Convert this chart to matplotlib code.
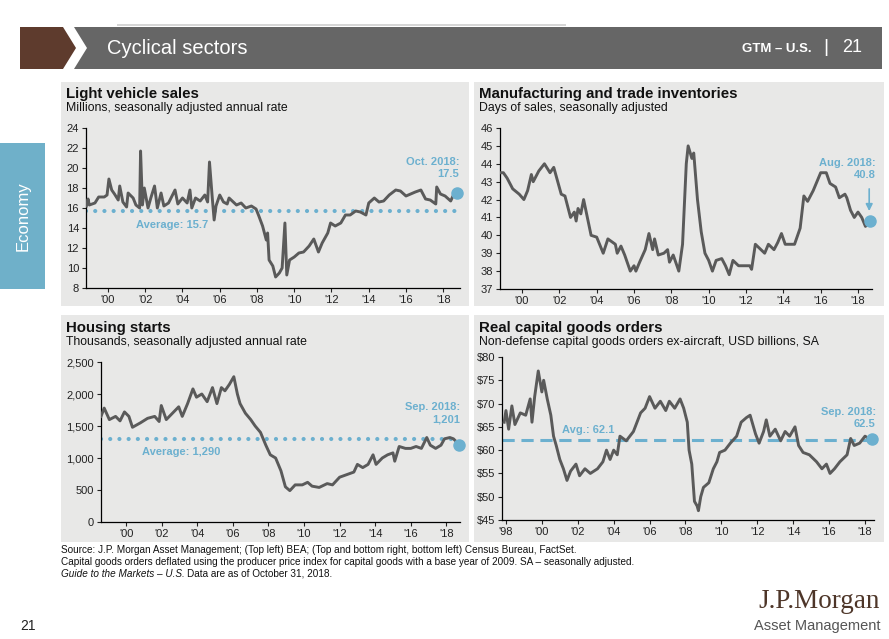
import matplotlib
matplotlib.use('Agg')
import matplotlib.pyplot as plt
from matplotlib.patches import Rectangle, Polygon

plt.rcParams['font.family'] = ['Liberation Sans', 'DejaVu Sans']

W, H = 889, 639
GREY_LINE = '#5a5a5a'
BLUE = '#6cb0cf'
PANEL = '#e8e8e7'

# ---- data (decimal years) ----
cars_t = [1998.84, 1998.93, 1999.0, 1999.3, 1999.5, 1999.8, 1999.95, 2000.05, 2000.2, 2000.35,
          2000.55, 2000.63, 2000.8, 2001.0, 2001.08, 2001.35, 2001.5, 2001.7, 2001.75, 2001.85,
          2001.95, 2002.15, 2002.3, 2002.5, 2002.65, 2002.85, 2003.0, 2003.25, 2003.6, 2003.75,
          2004.0, 2004.25, 2004.4, 2004.5, 2004.7, 2004.95, 2005.2, 2005.35, 2005.45, 2005.6,
          2005.7, 2005.8, 2006.0, 2006.2, 2006.4, 2006.5, 2006.9, 2007.15, 2007.4, 2007.7,
          2007.95, 2008.1, 2008.3, 2008.5, 2008.57, 2008.65, 2008.85, 2009.0, 2009.2, 2009.35,
          2009.5, 2009.6, 2009.75, 2010.0, 2010.25, 2010.5, 2010.8, 2011.05, 2011.3, 2011.5,
          2011.8, 2011.95, 2012.2, 2012.5, 2012.75, 2013.0, 2013.3, 2013.55, 2013.85, 2014.0,
          2014.3, 2014.55, 2014.8, 2015.1, 2015.45, 2015.7, 2016.0, 2016.25, 2016.5, 2016.8,
          2017.05, 2017.3, 2017.6, 2017.65, 2017.85, 2018.1, 2018.4, 2018.55, 2018.72]
cars_v = [16.2, 16.9, 16.3, 16.5, 17.1, 17.1, 17.3, 18.9, 17.8, 17.4,
          16.8, 18.2, 16.6, 16.1, 17.5, 17.0, 16.3, 16.0, 21.7, 16.3,
          18.0, 16.0, 17.0, 18.2, 16.0, 17.5, 16.2, 16.5, 17.8, 16.4,
          17.0, 16.5, 17.8, 16.0, 17.0, 16.7, 17.3, 16.6, 20.6, 17.0,
          14.8, 16.2, 17.3, 16.6, 16.4, 17.0, 16.3, 16.5, 16.0, 16.2,
          15.9, 15.2, 14.2, 12.8, 13.5, 10.8, 10.2, 9.1, 9.5, 10.0,
          14.5, 9.3, 10.8, 11.1, 11.5, 11.6, 12.2, 12.9, 11.6, 12.5,
          13.5, 14.5, 14.2, 14.5, 15.3, 15.3, 15.7, 15.6, 15.3, 16.5,
          17.0, 16.6, 16.7, 17.3, 17.8, 17.7, 17.2, 17.4, 17.6, 17.8,
          16.9, 16.8, 16.4, 18.1, 17.4, 17.2, 16.7, 17.3, 17.5]
cars_avg = 15.7

inv_t = [1998.82, 1999.0, 1999.2, 1999.35, 1999.5, 1999.85, 2000.1, 2000.3, 2000.5, 2000.6,
         2000.9, 2001.2, 2001.5, 2001.7, 2002.1, 2002.3, 2002.6, 2002.8, 2002.9, 2003.0,
         2003.15, 2003.3, 2003.7, 2004.0, 2004.35, 2004.6, 2005.0, 2005.1, 2005.3, 2005.5,
         2005.8, 2006.0, 2006.1, 2006.3, 2006.6, 2006.8, 2007.0, 2007.1, 2007.3, 2007.6,
         2007.8, 2007.9, 2008.1, 2008.4, 2008.6, 2008.8, 2008.9, 2009.1, 2009.2, 2009.4,
         2009.6, 2009.8, 2010.0, 2010.2, 2010.4, 2010.7, 2010.9, 2011.1, 2011.3, 2011.6,
         2012.2, 2012.3, 2012.5, 2012.8, 2013.0, 2013.2, 2013.5, 2013.7, 2013.9, 2014.1,
         2014.6, 2014.9, 2015.1, 2015.3, 2015.6, 2015.8, 2016.0, 2016.3, 2016.5, 2016.8,
         2017.0, 2017.3, 2017.4, 2017.6, 2017.8, 2018.0, 2018.2, 2018.4, 2018.64]
inv_v = [43.5, 43.5, 43.2, 42.9, 42.6, 42.3, 42.0, 42.5, 43.4, 43.0,
         43.6, 44.0, 43.5, 43.8, 42.3, 42.2, 41.0, 41.3, 40.8, 41.5,
         41.2, 42.0, 40.0, 39.9, 39.0, 39.8, 39.5, 39.0, 39.4, 38.9,
         38.0, 38.3, 38.0, 38.5, 39.2, 40.1, 39.2, 39.8, 38.9, 39.0,
         39.2, 38.5, 38.9, 38.0, 39.5, 44.0, 45.0, 44.3, 44.6, 42.0,
         40.2, 39.0, 38.6, 38.0, 38.6, 38.7, 38.3, 37.8, 38.6, 38.3,
         38.3, 38.1, 39.5, 39.2, 39.0, 39.5, 39.2, 39.6, 40.1, 39.5,
         39.5, 40.4, 42.2, 41.9, 42.5, 43.0, 43.5, 43.5, 42.9, 42.7,
         42.1, 42.3, 42.1, 41.4, 41.0, 41.3, 41.0, 40.5, 40.8]

house_t = [1998.58, 1998.76, 1999.05, 1999.4, 1999.65, 1999.9, 2000.15, 2000.35, 2000.8, 2001.2,
           2001.6, 2001.85, 2001.97, 2002.25, 2002.6, 2002.95, 2003.15, 2003.45, 2003.75, 2003.95,
           2004.25, 2004.55, 2004.85, 2005.1, 2005.35, 2005.55, 2005.8, 2006.05, 2006.25, 2006.4,
           2006.7, 2007.0, 2007.25, 2007.55, 2007.85, 2008.1, 2008.4, 2008.7, 2008.95, 2009.2,
           2009.5, 2009.9, 2010.2, 2010.45, 2010.85, 2011.3, 2011.6, 2012.0, 2012.4, 2012.8,
           2013.0, 2013.3, 2013.6, 2013.88, 2014.05, 2014.4, 2014.7, 2015.0, 2015.1, 2015.35,
           2015.7, 2016.0, 2016.3, 2016.6, 2016.9, 2017.1, 2017.4, 2017.7, 2017.9, 2018.2,
           2018.4, 2018.58, 2018.7]
house_v = [1650, 1780, 1600, 1650, 1580, 1720, 1650, 1480, 1550, 1620,
           1650, 1570, 1820, 1600, 1700, 1800, 1650, 1850, 2080, 1950,
           2000, 1880, 2100, 1850, 2100, 2050, 2150, 2270, 2000, 1850,
           1700, 1600, 1500, 1400, 1200, 1050, 1000, 800, 550, 490,
           580, 580, 620, 560, 540, 600, 580, 700, 740, 780,
           900, 850, 900, 1050, 900, 1000, 1050, 1080, 950, 1180,
           1150, 1150, 1180, 1150, 1320, 1200, 1150, 1200, 1300, 1320,
           1300, 1250, 1201]
house_avg = 1290

cap_t = [1997.9, 1998.0, 1998.15, 1998.33, 1998.5, 1998.8, 1999.1, 1999.35, 1999.45, 1999.6,
         1999.8, 2000.0, 2000.1, 2000.3, 2000.5, 2000.65, 2000.8, 2001.0, 2001.2, 2001.4,
         2001.6, 2001.9, 2002.1, 2002.4, 2002.7, 2003.1, 2003.4, 2003.6, 2003.8, 2004.0,
         2004.2, 2004.35, 2004.7, 2005.1, 2005.3, 2005.5, 2005.75, 2006.0, 2006.3, 2006.6,
         2006.9, 2007.1, 2007.4, 2007.7, 2007.9, 2008.1, 2008.2, 2008.35, 2008.5, 2008.65,
         2008.72, 2008.85, 2009.0, 2009.3, 2009.55, 2009.75, 2009.9, 2010.2, 2010.5, 2010.85,
         2011.1, 2011.4, 2011.6, 2011.9, 2012.1, 2012.35, 2012.5, 2012.7, 2013.0, 2013.3,
         2013.55, 2013.8, 2014.1, 2014.3, 2014.55, 2014.9, 2015.3, 2015.6, 2015.85, 2016.05,
         2016.3, 2016.6, 2017.0, 2017.2, 2017.4, 2017.7, 2018.0, 2018.2, 2018.38]
cap_v = [66.0, 68.5, 64.5, 69.5, 65.5, 68.0, 67.5, 71.0, 66.0, 71.5,
         77.0, 72.5, 75.0, 71.0, 67.5, 63.0, 61.0, 58.0, 56.0, 53.5,
         55.5, 57.0, 54.5, 56.0, 55.0, 56.0, 57.5, 60.0, 58.0, 60.0,
         59.0, 63.0, 62.0, 64.0, 66.0, 68.0, 69.0, 71.5, 69.0, 70.5,
         68.5, 70.5, 69.0, 71.0, 69.0, 66.0, 60.0, 57.0, 49.0, 48.0,
         47.0, 50.0, 52.0, 53.0, 56.0, 57.5, 59.5, 60.0, 61.5, 63.0,
         66.0, 67.0, 67.5, 63.5, 61.5, 64.0, 66.5, 63.0, 64.5, 62.0,
         64.0, 63.0, 65.0, 61.0, 59.5, 59.0, 57.5, 56.0, 57.0, 55.0,
         56.0, 57.5, 59.0, 62.5, 61.0, 61.5, 63.0, 62.5, 62.5]
cap_avg = 62.1

even_years = list(range(2000, 2019, 2))
even_years_br = list(range(1998, 2019, 2))


def px_axes(l, t, r, b):
    ax = fig.add_axes([l / W, 1 - b / H, (r - l) / W, (b - t) / H])
    ax.set_zorder(2)
    return ax


def ftext(x, y, s, **kw):
    return fig.text(x / W, 1 - y / H, s, **kw)


def frect(x0, y0, x1, y1, color):
    fig.patches.append(Rectangle((x0 / W, 1 - y1 / H), (x1 - x0) / W, (y1 - y0) / H,
                                 transform=fig.transFigure, facecolor=color,
                                 edgecolor='none', zorder=-1))


def style_axes(ax, xlim, ylim, yticks, ylabels, xticks):
    ax.set_facecolor('none')
    ax.set_xlim(*xlim)
    ax.set_ylim(*ylim)
    for s in ['top', 'right']:
        ax.spines[s].set_visible(False)
    for s in ['left', 'bottom']:
        ax.spines[s].set_linewidth(0.9)
    ax.set_yticks(yticks)
    ax.set_yticklabels(ylabels)
    ax.set_xticks(xticks)
    ax.set_xticklabels(["'" + str(y)[2:] for y in xticks])
    ax.tick_params(axis='both', length=3, width=0.8, labelsize=8, pad=2, colors='#222222')


fig = plt.figure(figsize=(W / 100, H / 100), dpi=100)
fig.patch.set_facecolor('white')

# header
fig.patches.append(Polygon([(20 / W, 1 - 27 / H), (63 / W, 1 - 27 / H), (76 / W, 1 - 48 / H),
                            (63 / W, 1 - 69 / H), (20 / W, 1 - 69 / H)],
                           closed=True, transform=fig.transFigure, facecolor='#5e3b2d',
                           edgecolor='none', zorder=-1))
fig.patches.append(Polygon([(74 / W, 1 - 27 / H), (882 / W, 1 - 27 / H), (882 / W, 1 - 69 / H),
                            (74 / W, 1 - 69 / H), (87 / W, 1 - 48 / H)],
                           closed=True, transform=fig.transFigure, facecolor='#666666',
                           edgecolor='none', zorder=-1))
frect(117, 24.5, 566, 25.5, '#d6d6d6')
ftext(107, 48, 'Cyclical sectors', color='white', fontsize=14.5, va='center')
ftext(812, 49, 'GTM – U.S.', color='white', fontsize=9.5, fontweight='bold', va='center',
      ha='right')
ftext(826, 48, '|', color='white', fontsize=14, va='center', ha='center')
ftext(842, 48, '21', color='white', fontsize=13, va='center', ha='left')

# side tab
frect(0, 143, 45, 289, '#6fb0c9')
ftext(23, 216, 'Economy', color='white', fontsize=12, rotation=90, va='center', ha='center')

# panels
frect(61, 82, 469, 306, PANEL)
frect(474, 82, 884, 306, PANEL)
frect(61, 315, 469, 542, PANEL)
frect(474, 315, 884, 542, PANEL)

titles = [(66, 94, 'Light vehicle sales', 'Millions, seasonally adjusted annual rate'),
          (479, 94, 'Manufacturing and trade inventories', 'Days of sales, seasonally adjusted'),
          (66, 328, 'Housing starts', 'Thousands, seasonally adjusted annual rate'),
          (479, 328, 'Real capital goods orders',
           'Non-defense capital goods orders ex-aircraft, USD billions, SA')]
for x, y, t, s in titles:
    ftext(x, y, t, fontsize=10.8, fontweight='bold', va='center', color='#111111')
    ftext(x, y + 14, s, fontsize=8.8, va='center', color='#111111')

dot_style = dict(color=BLUE, lw=3, linestyle=(0, (0.01, 2.2)), dash_capstyle='round', zorder=2)
note = dict(color=BLUE, fontsize=8, fontweight='bold', va='center', linespacing=1.25)
LW = 2.1

# top left: light vehicle sales
ax1 = px_axes(86, 128, 460, 288)
style_axes(ax1, (1998.82, 2018.9), (8, 24), range(8, 25, 2), [str(v) for v in range(8, 25, 2)],
           even_years)
ax1.axhline(cars_avg, **dot_style)
ax1.plot(cars_t, cars_v, color=GREY_LINE, lw=LW, zorder=3)
ax1.plot(cars_t[-1], cars_v[-1], 'o', ms=8, color=BLUE, zorder=4, clip_on=False)
ax1.text(2018.85, 20.0, 'Oct. 2018:\n17.5', ha='right', **note)
ax1.text(2001.5, 14.3, 'Average: 15.7', ha='left', **note)

# top right: inventories
ax2 = px_axes(500, 128, 872, 289)
style_axes(ax2, (1998.82, 2018.75), (37, 46), range(37, 47), [str(v) for v in range(37, 47)],
           even_years)
ax2.plot(inv_t, inv_v, color=GREY_LINE, lw=LW, zorder=3)
ax2.plot(inv_t[-1], inv_v[-1], 'o', ms=8, color=BLUE, zorder=4, clip_on=False)
ax2.text(2018.95, 43.7, 'Aug. 2018:\n40.8', ha='right', **note)
ax2.annotate('', xy=(2018.6, 41.2), xytext=(2018.6, 42.75),
             arrowprops=dict(arrowstyle='-|>', color=BLUE, lw=1.2, mutation_scale=10))

# bottom left: housing starts
ax3 = px_axes(101, 362, 460, 522)
style_axes(ax3, (1998.58, 2018.77), (0, 2500), range(0, 2501, 500),
           ['0', '500', '1,000', '1,500', '2,000', '2,500'], even_years)
ax3.axhline(house_avg, **dot_style)
ax3.plot(house_t, house_v, color=GREY_LINE, lw=LW, zorder=3)
ax3.plot(house_t[-1], house_v[-1], 'o', ms=8, color=BLUE, zorder=4, clip_on=False)
ax3.text(2018.8, 1700, 'Sep. 2018:\n1,201', ha='right', **note)
ax3.text(2000.9, 1094, 'Average: 1,290', ha='left', **note)

# bottom right: capital goods orders
ax4 = px_axes(502, 357, 874, 520)
style_axes(ax4, (1997.78, 2018.5), (45, 80), range(45, 81, 5),
           ['$' + str(v) for v in range(45, 81, 5)], even_years_br)
ax4.axhline(cap_avg, color=BLUE, lw=2.2, linestyle=(0, (4, 2.2)), zorder=2)
ax4.plot(cap_t, cap_v, color=GREY_LINE, lw=LW, zorder=3)
ax4.plot(cap_t[-1], cap_v[-1], 'o', ms=8, color=BLUE, zorder=4, clip_on=False)
ax4.text(2018.6, 66.8, 'Sep. 2018:\n62.5', ha='right', **note)
ax4.text(2001.1, 64.3, 'Avg.: 62.1', ha='left', **note)

# footnotes
ftext(61, 550, 'Source: J.P. Morgan Asset Management; (Top left) BEA; (Top and bottom right, '
      'bottom left) Census Bureau, FactSet.', fontsize=7.2, va='center', color='#111111')
ftext(61, 562, 'Capital goods orders deflated using the producer price index for capital goods '
      'with a base year of 2009. SA – seasonally adjusted.', fontsize=7.2, va='center',
      color='#111111')
it = ftext(61, 574, 'Guide to the Markets – U.S.', fontsize=7.2, va='center', style='italic',
           color='#111111')
fig.canvas.draw()
bb = it.get_window_extent()
fig.text(bb.x1 / W + 2 / W, 1 - 574 / H, 'Data are as of October 31, 2018.', fontsize=7.2,
         va='center', color='#111111')

ftext(20, 626, '21', fontsize=10, va='center', color='#222222')
ftext(880, 602, 'J.P.Morgan', fontsize=19.5, ha='right', va='center', color='#4e3629',
      family=['Liberation Serif', 'DejaVu Serif'])
ftext(880, 626, 'Asset Management', fontsize=10.5, ha='right', va='center', color='#555555')

fig.savefig('out.png', dpi=100)
